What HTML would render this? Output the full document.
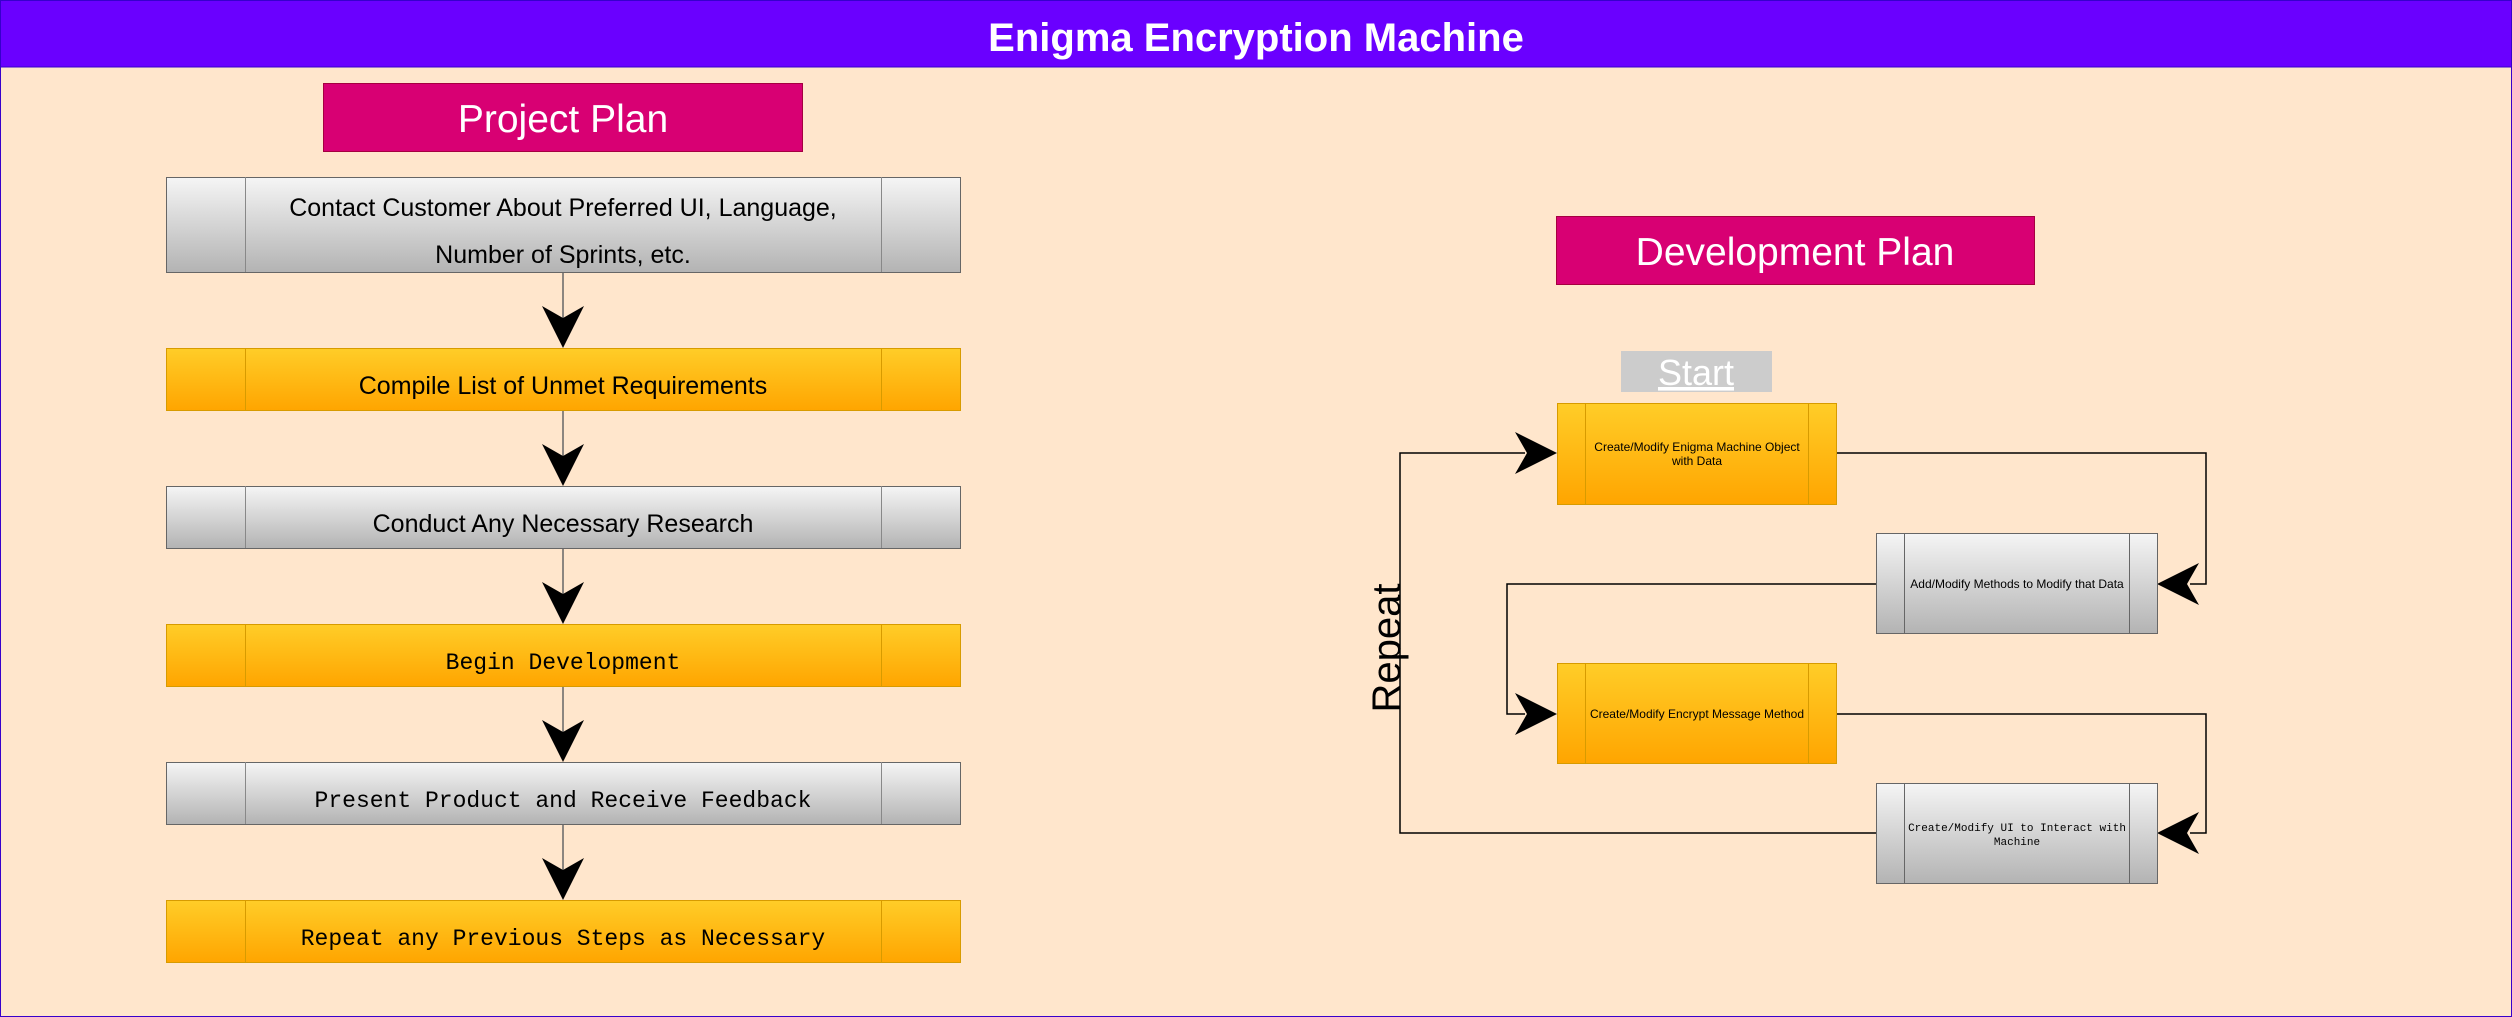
<!DOCTYPE html>
<html><head><meta charset="utf-8"><style>
html,body{margin:0;padding:0;background:#ffe6cc;}
svg{display:block;}
</style></head><body>
<svg width="2512" height="1017" viewBox="0 0 2512 1017" xmlns="http://www.w3.org/2000/svg">
<defs>
<linearGradient id="gy" x1="0" y1="0" x2="0" y2="1"><stop offset="0" stop-color="#f5f5f5"/><stop offset="1" stop-color="#b3b3b3"/></linearGradient>
<linearGradient id="og" x1="0" y1="0" x2="0" y2="1"><stop offset="0" stop-color="#ffcd28"/><stop offset="1" stop-color="#ffa500"/></linearGradient>
</defs>
<rect x="0.5" y="0.5" width="2511" height="1016" fill="#ffe6cc" stroke="#3700cc"/>
<rect x="0.5" y="0.5" width="2511" height="66.5" fill="#6a00ff" stroke="#3700cc"/>
<text x="1256" y="51" text-anchor="middle" font-family="Liberation Sans, sans-serif" font-weight="bold" font-size="40" fill="#fff">Enigma Encryption Machine</text>

<rect x="323.5" y="83.5" width="479" height="68" fill="#d80073" stroke="#a50040"/>
<text x="563" y="132" text-anchor="middle" font-family="Liberation Sans, sans-serif" font-size="39" fill="#fff">Project Plan</text>

<g font-family="Liberation Sans, sans-serif" font-size="25" fill="#000" text-anchor="middle">
<rect x="166.5" y="177.5" width="794" height="95" fill="url(#gy)" stroke="#666"/>
<line x1="245.5" y1="177" x2="245.5" y2="272" stroke="#888"/><line x1="881.5" y1="177" x2="881.5" y2="272" stroke="#888"/>
<text x="563" y="216">Contact Customer About Preferred UI, Language,</text>
<text x="563" y="263">Number of Sprints, etc.</text>
<rect x="166.5" y="348.5" width="794" height="62" fill="url(#og)" stroke="#d79b00"/>
<line x1="245.5" y1="348" x2="245.5" y2="410" stroke="#d79b00"/><line x1="881.5" y1="348" x2="881.5" y2="410" stroke="#d79b00"/>
<text x="563" y="394">Compile List of Unmet Requirements</text>
<rect x="166.5" y="486.5" width="794" height="62" fill="url(#gy)" stroke="#666"/>
<line x1="245.5" y1="486" x2="245.5" y2="548" stroke="#888"/><line x1="881.5" y1="486" x2="881.5" y2="548" stroke="#888"/>
<text x="563" y="532">Conduct Any Necessary Research</text>
</g>
<g font-family="Liberation Mono, monospace" font-size="23" fill="#000" text-anchor="middle">
<rect x="166.5" y="624.5" width="794" height="62" fill="url(#og)" stroke="#d79b00"/>
<line x1="245.5" y1="624" x2="245.5" y2="686" stroke="#d79b00"/><line x1="881.5" y1="624" x2="881.5" y2="686" stroke="#d79b00"/>
<text x="563" y="669">Begin Development</text>
<rect x="166.5" y="762.5" width="794" height="62" fill="url(#gy)" stroke="#666"/>
<line x1="245.5" y1="762" x2="245.5" y2="824" stroke="#888"/><line x1="881.5" y1="762" x2="881.5" y2="824" stroke="#888"/>
<text x="563" y="807">Present Product and Receive Feedback</text>
<rect x="166.5" y="900.5" width="794" height="62" fill="url(#og)" stroke="#d79b00"/>
<line x1="245.5" y1="900" x2="245.5" y2="962" stroke="#d79b00"/><line x1="881.5" y1="900" x2="881.5" y2="962" stroke="#d79b00"/>
<text x="563" y="945">Repeat any Previous Steps as Necessary</text>
</g>
<g stroke="#666" stroke-width="1.5">
<line x1="563" y1="273" x2="563" y2="330"/><line x1="563" y1="411" x2="563" y2="468"/>
<line x1="563" y1="549" x2="563" y2="606"/><line x1="563" y1="687" x2="563" y2="744"/>
<line x1="563" y1="825" x2="563" y2="882"/>
</g>
<g fill="#000">
<path d="M563 348 L542 306 L563 318 L584 306 Z"/>
<path d="M563 486 L542 444 L563 456 L584 444 Z"/>
<path d="M563 624 L542 582 L563 594 L584 582 Z"/>
<path d="M563 762 L542 720 L563 732 L584 720 Z"/>
<path d="M563 900 L542 858 L563 870 L584 858 Z"/>
</g>

<rect x="1556.5" y="216.5" width="478" height="68" fill="#d80073" stroke="#a50040"/>
<text x="1795" y="265" text-anchor="middle" font-family="Liberation Sans, sans-serif" font-size="39" fill="#fff">Development Plan</text>
<rect x="1621" y="351" width="151" height="41" fill="#cccccc"/>
<text x="1696" y="385" text-anchor="middle" font-family="Liberation Sans, sans-serif" font-size="36" fill="#fff" text-decoration="underline">Start</text>

<g stroke="#000" stroke-width="1.5" fill="none">
<polyline points="1836,453 2206,453 2206,584 2190,584"/>
<polyline points="1876,584 1507,584 1507,714 1525,714"/>
<polyline points="1836,714 2206,714 2206,833 2190,833"/>
<polyline points="1876,833 1400,833 1400,453 1525,453"/>
</g>
<g fill="#000">
<path d="M1557 453 L1515 432 L1527 453 L1515 474 Z"/>
<path d="M1557 714 L1515 693 L1527 714 L1515 735 Z"/>
<path d="M2157 584 L2199 563 L2187 584 L2199 605 Z"/>
<path d="M2157 833 L2199 812 L2187 833 L2199 854 Z"/>
</g>

<g font-family="Liberation Sans, sans-serif" font-size="12" fill="#000" text-anchor="middle">
<rect x="1557.5" y="403.5" width="279" height="101" fill="url(#og)" stroke="#d79b00"/>
<line x1="1585.5" y1="403" x2="1585.5" y2="504" stroke="#d79b00"/><line x1="1808.5" y1="403" x2="1808.5" y2="504" stroke="#d79b00"/>
<text x="1697" y="451">Create/Modify Enigma Machine Object</text>
<text x="1697" y="465">with Data</text>
<rect x="1876.5" y="533.5" width="281" height="100" fill="url(#gy)" stroke="#666"/>
<line x1="1904.5" y1="533" x2="1904.5" y2="633" stroke="#666"/><line x1="2129.5" y1="533" x2="2129.5" y2="633" stroke="#666"/>
<text x="2017" y="588">Add/Modify Methods to Modify that Data</text>
<rect x="1557.5" y="663.5" width="279" height="100" fill="url(#og)" stroke="#d79b00"/>
<line x1="1585.5" y1="663" x2="1585.5" y2="763" stroke="#d79b00"/><line x1="1808.5" y1="663" x2="1808.5" y2="763" stroke="#d79b00"/>
<text x="1697" y="718">Create/Modify Encrypt Message Method</text>
<rect x="1876.5" y="783.5" width="281" height="100" fill="url(#gy)" stroke="#666"/>
<line x1="1904.5" y1="783" x2="1904.5" y2="883" stroke="#666"/><line x1="2129.5" y1="783" x2="2129.5" y2="883" stroke="#666"/>
<text x="2017" y="831" font-family="Liberation Mono, monospace" font-size="11">Create/Modify UI to Interact with</text>
<text x="2017" y="845" font-family="Liberation Mono, monospace" font-size="11">Machine</text>
</g>
<text transform="translate(1400,648) rotate(-90)" text-anchor="middle" font-family="Liberation Sans, sans-serif" font-size="40" fill="#000">Repeat</text>
</svg>
</body></html>
